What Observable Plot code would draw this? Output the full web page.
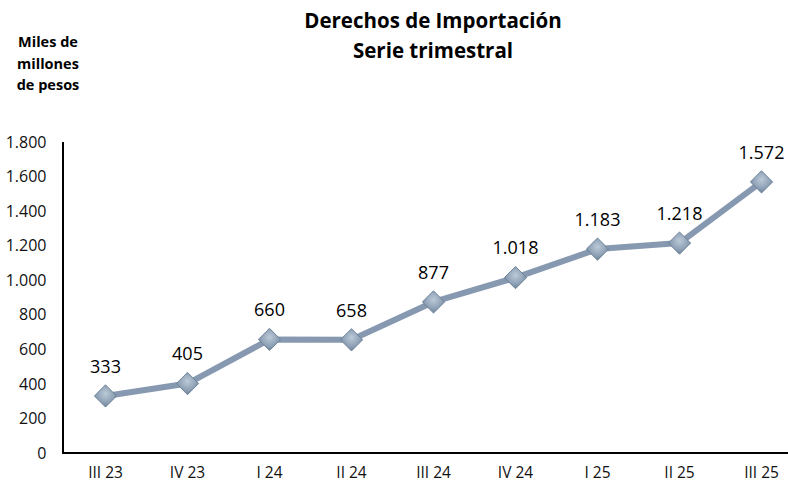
<!DOCTYPE html>
<html>
<head>
<meta charset="utf-8">
<script src="https://cdn.jsdelivr.net/npm/d3@7"></script>
<script src="https://cdn.jsdelivr.net/npm/@observablehq/plot@0.6"></script>
<style>
  html, body { margin: 0; padding: 0; background: #fff; }
  #wrap { position: relative; width: 788px; height: 486px; font-family: "Open Sans", sans-serif; }
  #title { position: absolute; left: 233px; width: 400px; top: 5px; text-align: center; font-weight: 700; font-size: 20.5px; line-height: 30px; color: #000; }
  #ylab { position: absolute; left: 0px; width: 96px; top: 31px; text-align: center; font-weight: 700; font-size: 14.5px; line-height: 21.5px; color: #000; }
  #chart { position: absolute; left: 0; top: 0; }
</style>
</head>
<body>
<div id="wrap">
  <div id="chart"></div>
  <div id="title">Derechos de Importación<br>Serie trimestral</div>
  <div id="ylab">Miles de<br>millones<br>de pesos</div>
</div>
<script>
const quarters = ["III 23", "IV 23", "I 24", "II 24", "III 24", "IV 24", "I 25", "II 25", "III 25"];
const values = [333, 405, 660, 658, 877, 1018, 1183, 1218, 1572];
const yTicks = [0, 200, 400, 600, 800, 1000, 1200, 1400, 1600, 1800];

const data = quarters.map((q, i) => ({q, v: values[i]}));
const es = d3.formatLocale({decimal: ",", thousands: ".", grouping: [3], currency: ["$", ""]});
const fmt = es.format(",");

const plot = Plot.plot({
  width: 788,
  height: 486,
  marginLeft: 63,
  marginRight: 0,
  marginTop: 142,
  marginBottom: 33,
  style: {fontFamily: "'Open Sans', sans-serif", fontSize: "15px", color: "#111", background: "#fff"},
  x: {type: "point", domain: quarters, padding: 0, insetLeft: 41, insetRight: 26, label: null},
  y: {domain: [0, 1800], label: null},
  marks: [
    Plot.axisY({ticks: yTicks, tickFormat: fmt, tickSize: 0, tickPadding: 17, label: null, fontSize: 16}),
    Plot.axisX({tickSize: 0, tickPadding: 13, label: null, fontSize: 15.5}),
    Plot.line(data, {x: "q", y: "v", stroke: "#8799B1", strokeWidth: 6, curve: "linear"}),
    Plot.dot(data, {x: "q", y: "v", symbol: "diamond2", r: 10, fill: "url(#dgrad)", stroke: "#6F8399", strokeWidth: 1}),
    Plot.text(data, {x: "q", y: "v", text: d => fmt(d.v), dy: -29, fontSize: 18, fill: "#000"})
  ]
});
document.getElementById("chart").appendChild(plot);

const svg = d3.select(plot);
const sy = plot.scale("y");
const defs = svg.insert("defs", ":first-child");
const g = defs.append("radialGradient").attr("id", "dgrad").attr("cx", "50%").attr("cy", "40%").attr("r", "65%");
g.append("stop").attr("offset", "0%").attr("stop-color", "#BCCAD8");
g.append("stop").attr("offset", "60%").attr("stop-color", "#8EA1B5");
g.append("stop").attr("offset", "100%").attr("stop-color", "#667A92");
const frame = svg.append("g").attr("stroke", "#000").attr("stroke-width", 2);
frame.append("line").attr("x1", 63).attr("x2", 63).attr("y1", sy.apply(1800)).attr("y2", sy.apply(0) + 1);
frame.append("line").attr("x1", 62).attr("x2", 788).attr("y1", sy.apply(0)).attr("y2", sy.apply(0));
</script>
</body>
</html>
